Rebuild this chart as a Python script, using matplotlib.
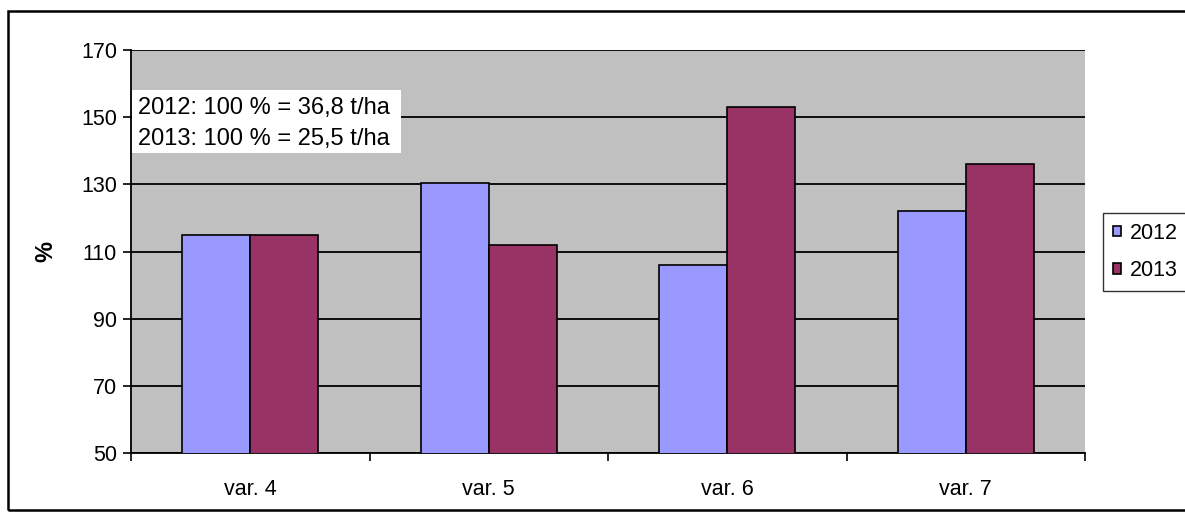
import numpy as np
import matplotlib.pyplot as plt
from matplotlib.patches import Rectangle

plt.rcParams['font.family'] = ['Liberation Sans', 'DejaVu Sans']

categories = ['var. 4', 'var. 5', 'var. 6', 'var. 7']
years = ['2012', '2013']
values_2012 = [115, 130.5, 106, 122]
values_2013 = [115, 112, 153, 136]
colors = ['#9999FF', '#993366']
note_lines = ['2012: 100 % = 36,8 t/ha', '2013: 100 % = 25,5 t/ha']

fig = plt.figure(figsize=(11.85, 5.2), dpi=100)
ax = fig.add_axes([131 / 1185, 1 - 453 / 520, (1085 - 131) / 1185, (453 - 50) / 520])
ax.set_facecolor('#C0C0C0')

x = np.arange(len(categories))
w = 0.285
ax.bar(x - w / 2, values_2012, w, color=colors[0], edgecolor='black', linewidth=1.2,
       label=years[0], zorder=3)
ax.bar(x + w / 2, values_2013, w, color=colors[1], edgecolor='black', linewidth=1.2,
       label=years[1], zorder=3)

ax.set_xlim(-0.5, len(categories) - 0.5)
ax.set_ylim(50, 170)
ax.set_yticks(range(50, 171, 20))
ax.yaxis.grid(True, color='black', linewidth=1.3, zorder=1)
ax.set_axisbelow(True)

ax.set_xticks(x)
ax.set_xticklabels(categories)
ax.set_xticks(np.arange(-0.5, len(categories)), minor=True)
ax.tick_params(axis='x', which='major', length=0, pad=19, labelsize=15.5)
ax.tick_params(axis='x', which='minor', length=6, width=1.2, direction='out')
ax.tick_params(axis='y', length=6, width=1.2, direction='out', labelsize=15.5, pad=4)

for side in ['top', 'right']:
    ax.spines[side].set_visible(False)
for side in ['left', 'bottom']:
    ax.spines[side].set_linewidth(1.3)

ax.set_ylabel('%', fontsize=17, fontweight='bold', labelpad=17)

# white box with the reference yields
ax.add_patch(Rectangle((0.001, 0.744), 0.282, 0.156, transform=ax.transAxes,
                       facecolor='white', edgecolor='none', zorder=5))
for i, line in enumerate(note_lines):
    ax.text(0.0073, 0.856 - i * 0.077, line, transform=ax.transAxes, fontsize=17,
            va='center', ha='left', zorder=6)

fig.legend(loc='upper left', bbox_to_anchor=(1103 / 1185, 1 - 213 / 520), fontsize=15.5,
           frameon=True, fancybox=False, edgecolor='black', handlelength=0.4,
           handleheight=0.4, handletextpad=0.4, borderpad=0.45, labelspacing=0.75,
           borderaxespad=0)

fig.patches.append(Rectangle((8 / 1185, 1 - 510 / 520), 1.2, (510 - 11) / 520,
                             transform=fig.transFigure, fill=False,
                             edgecolor='black', linewidth=1.8))

fig.savefig('out.png', dpi=100)
